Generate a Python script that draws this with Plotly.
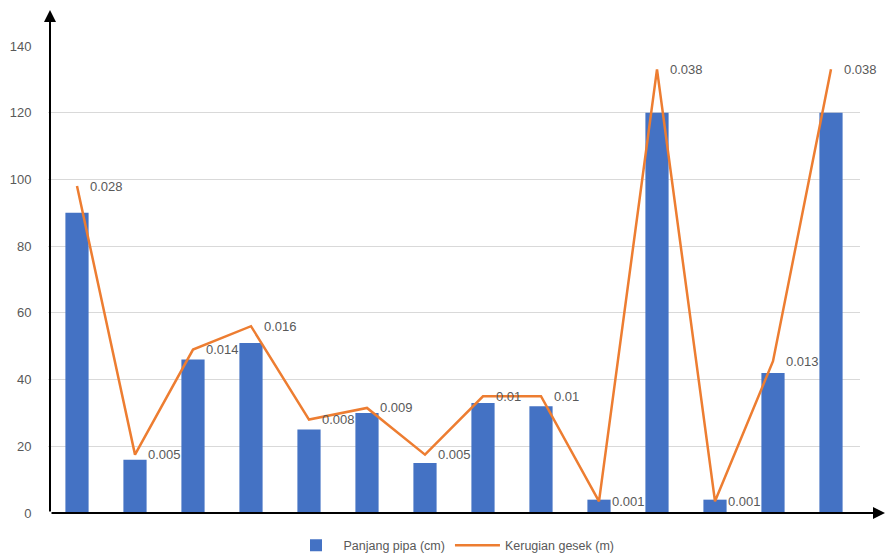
import plotly.graph_objects as go

categories = [str(i) for i in range(1, 15)]
panjang_pipa = [90, 16, 46, 51, 25, 30, 15, 33, 32, 4, 120, 4, 42, 120]
kerugian_gesek = [0.028, 0.005, 0.014, 0.016, 0.008, 0.009, 0.005, 0.01, 0.01, 0.001, 0.038, 0.001, 0.013, 0.038]
y_ticks = [0, 20, 40, 60, 80, 100, 120, 140]

W, H = 888, 558
ML, MR, MT, MB = 48, 28, 46, 45
pw = W - ML - MR
ph = H - MT - MB

fig = go.Figure()
fig.add_trace(go.Bar(
    x=categories, y=panjang_pipa, name="Panjang pipa (cm)",
    marker=dict(color="#4472C4", line=dict(width=0)), width=0.4,
))
fig.add_trace(go.Scatter(
    x=categories, y=kerugian_gesek, name="Kerugian gesek (m)", yaxis="y2",
    mode="lines", line=dict(color="#ED7D31", width=2.5),
))

for i, v in enumerate(kerugian_gesek):
    fig.add_annotation(
        x=i, y=v, xref="x", yref="y2", text=str(v), showarrow=False,
        xanchor="left", yanchor="middle", xshift=11,
        font=dict(family="Liberation Sans, Arial", size=13, color="#595959"),
    )

# axis arrows
fig.add_annotation(
    xref="paper", yref="paper", x=(50 - ML) / pw, y=(ph + MT - 10) / ph,
    ax=0, ay=ph + MT - 10, axref="pixel", ayref="pixel", text="", showarrow=True,
    arrowhead=2, arrowsize=1.2, arrowwidth=2, arrowcolor="#000000",
)
fig.add_annotation(
    xref="paper", yref="paper", x=(885 - ML) / pw, y=0,
    ax=-(885 - 50), ay=0, axref="pixel", ayref="pixel", text="", showarrow=True,
    arrowhead=2, arrowsize=1.2, arrowwidth=2, arrowcolor="#000000",
)

fig.update_layout(
    width=W, height=H,
    margin=dict(l=ML, r=MR, t=MT, b=MB, autoexpand=False),
    plot_bgcolor="white", paper_bgcolor="white",
    showlegend=True,
    legend=dict(orientation="h", x=0.5, xanchor="center", y=-0.07, yanchor="middle",
                font=dict(family="Liberation Sans, Arial", size=12.5, color="#595959"),
                itemwidth=45),
    xaxis=dict(showticklabels=False, showgrid=False, showline=False, zeroline=False,
               ticks="", range=[-0.5, 13.5], automargin=False),
    yaxis=dict(range=[0, 140], tickvals=y_ticks, showgrid=True, gridcolor="#D9D9D9",
               gridwidth=1, showline=False, zeroline=False, ticks="outside",
               ticklen=13, tickcolor="rgba(0,0,0,0)", automargin=False,
               tickfont=dict(family="Liberation Sans, Arial", size=13, color="#595959")),
    yaxis2=dict(range=[0, 0.04], overlaying="y", side="right", visible=False),
)

fig.write_html("out.html", config={"displayModeBar": False},
               post_script="document.body.style.margin='0';")
